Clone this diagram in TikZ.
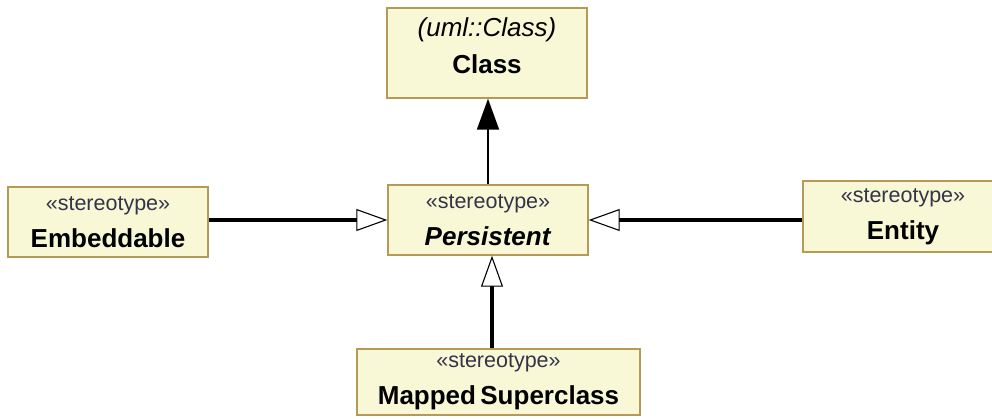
\documentclass[tikz,border=0pt]{standalone}
\usepackage{fontspec}
\setmainfont{Liberation Sans}
\usetikzlibrary{arrows.meta}
\definecolor{boxfill}{RGB}{248,248,214}
\definecolor{boxline}{RGB}{181,153,86}
\definecolor{stereocol}{RGB}{52,52,72}
\newcommand{\stereo}[1]{{\fontsize{21.5pt}{37pt}\selectfont\color{stereocol}\guillemotleft#1\guillemotright}}
\tikzset{
  umlbox/.style={draw=boxline,fill=boxfill,line width=1.4pt,minimum width=200pt,
    minimum height=70pt,inner sep=0pt,align=center},
  gen/.style={line width=3.2pt,-{Triangle[open,fill=white,line width=1.1pt,length=31pt,width=22pt]}},
  inst/.style={line width=1.8pt,-{Triangle[length=31pt,width=22pt]}}
}
\begin{document}
\begin{tikzpicture}[x=1pt,y=-1pt,line join=miter,font=\fontsize{26pt}{37pt}\selectfont]
	\useasboundingbox (0,0) rectangle (992,418);
	\node[umlbox,minimum height=90pt,text depth=14pt] (class) at (487,53)
		{\textit{(uml::Class)}\\\textbf{Class}};
	\node[umlbox] (persistent) at (488,220) {\stereo{stereotype}\\\textbf{\textit{Persistent}}};
	\node[umlbox] (embeddable) at (108,222) {\stereo{stereotype}\\\textbf{Embeddable}};
	\node[umlbox,minimum height=71pt] (entity) at (903,216.5) {\stereo{stereotype}\\\textbf{Entity}};
	\node[umlbox,minimum width=283pt,minimum height=66pt] (mapped) at (498.5,382)
		{\stereo{stereotype}\\\textbf{Mapped\,Superclass}};
	\draw[inst] (persistent.north) -- (persistent.north |- class.south);
	\draw[gen] (embeddable.east |- persistent.west) -- (persistent.west);
	\draw[gen] (entity.west |- persistent.east) -- (persistent.east);
	\draw[gen] ([xshift=4pt]persistent.south |- mapped.north) -- ([xshift=4pt]persistent.south);
\end{tikzpicture}
\end{document}
